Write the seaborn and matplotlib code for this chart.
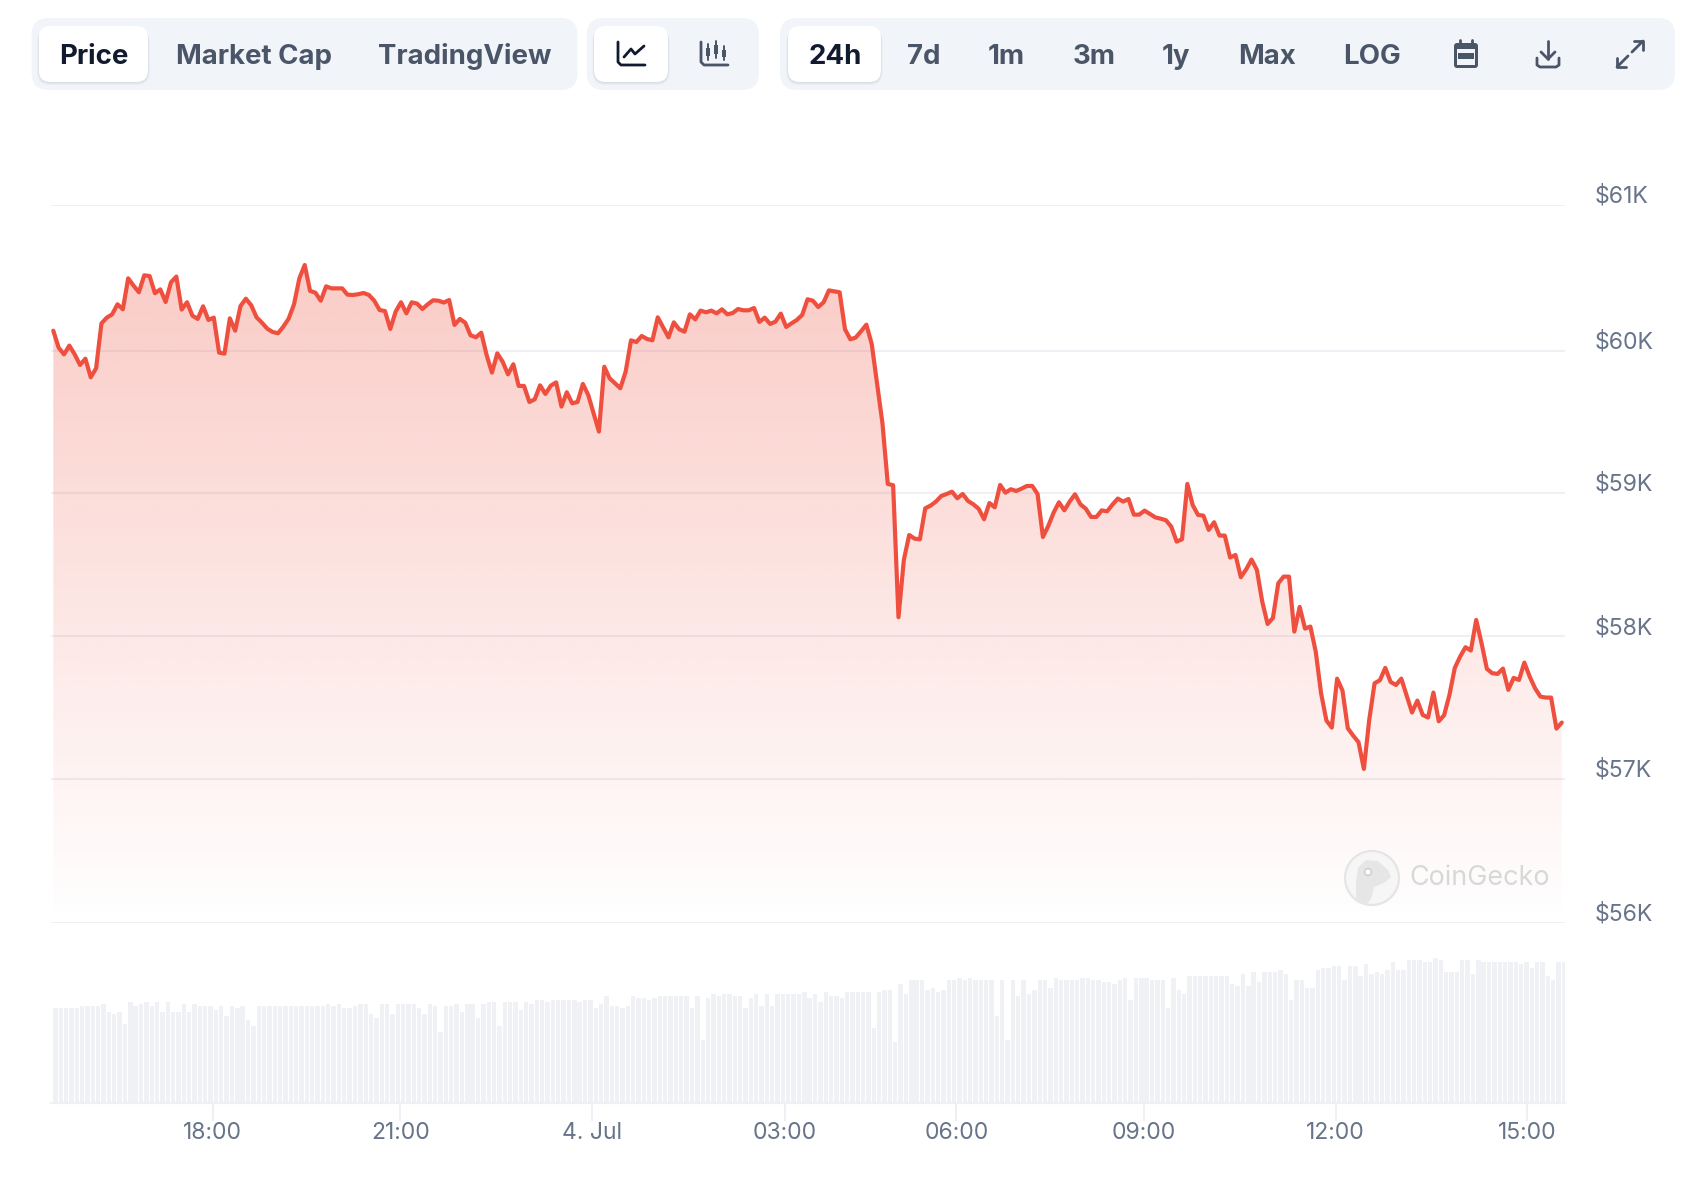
"""CoinGecko style 24h BTC price card: price line with gradient fill, volume bars, toolbar."""
import numpy as np
import matplotlib.pyplot as plt
import matplotlib.transforms as mtrans
from matplotlib.colors import to_rgb
from matplotlib.patches import Circle, FancyBboxPatch, Polygon, Rectangle
import seaborn as sns

sns.set_theme(style="white")
plt.rcParams["font.family"] = ["Inter", "DejaVu Sans"]

# ---------- data ----------
price = [
    60139, 60021, 59974, 60035, 59974, 59900, 59944, 59814, 59877, 60190, 60230, 60253,
    60323, 60288, 60504, 60453, 60407, 60525, 60520, 60400, 60427, 60339, 60476, 60516,
    60286, 60337, 60244, 60221, 60309, 60214, 60230, 59986, 59979, 60225, 60139, 60311,
    60362, 60316, 60232, 60195, 60153, 60130, 60121, 60167, 60223, 60323, 60504, 60597,
    60416, 60404, 60348, 60448, 60434, 60434, 60434, 60390, 60388, 60393, 60402, 60388,
    60348, 60283, 60276, 60151, 60272, 60337, 60260, 60337, 60328, 60290, 60323, 60351,
    60348, 60335, 60353, 60179, 60221, 60195, 60107, 60093, 60125, 59970, 59847, 59981,
    59923, 59835, 59905, 59754, 59754, 59642, 59661, 59758, 59698, 59756, 59779, 59610,
    59710, 59633, 59642, 59768, 59691, 59563, 59436, 59888, 59807, 59772, 59738, 59854,
    60072, 60060, 60102, 60081, 60072, 60232, 60163, 60093, 60197, 60149, 60132, 60253,
    60218, 60279, 60267, 60279, 60260, 60288, 60253, 60262, 60290, 60281, 60281, 60297,
    60200, 60230, 60186, 60202, 60258, 60165, 60190, 60214, 60249, 60358, 60348,
    60304, 60337, 60420, 60413, 60407, 60149, 60079, 60091, 60135, 60181, 60046, 59772,
    59494, 59071, 59062, 58142, 58541, 58715, 58690, 58685, 58901, 58920, 58948, 58987,
    59001, 59017, 58971, 59001, 58952, 58929, 58897, 58825, 58938, 58908, 59064, 59010,
    59034, 59022, 59038, 59057, 59057, 59001, 58701, 58778, 58871, 58943, 58887, 58948,
    58999, 58929, 58899, 58841, 58841, 58887, 58880, 58927, 58969, 58948, 58966, 58857,
    58857, 58885, 58862, 58838, 58829, 58818, 58773, 58669, 58685, 59071, 58924,
    58855, 58850, 58751, 58804, 58711, 58711, 58558, 58576, 58421, 58476, 58544, 58472,
    58251, 58095, 58137, 58379, 58425, 58425, 58042, 58214, 58063, 58077, 57903, 57612,
    57422, 57373, 57714, 57631, 57368, 57317, 57271, 57085, 57426, 57682, 57703, 57789,
    57691, 57670, 57714, 57596, 57478, 57561, 57461, 57443, 57617, 57417, 57459, 57601,
    57789, 57868, 57933, 57910, 58123, 57961, 57782, 57752, 57747, 57784, 57636, 57719,
    57705, 57826, 57728, 57647, 57589, 57582, 57582, 57366, 57408,
]
volume = [
    286, 286, 286, 286, 286, 292, 292, 292, 292, 298, 274, 268, 274, 238, 304, 292, 298, 304, 292,
    304, 274, 304, 274, 274, 298, 274, 298, 292, 292, 292, 280, 292, 262, 292, 286, 292, 250, 232,
    292, 292, 292, 292, 292, 292, 292, 292, 292, 292, 292, 292, 292, 298, 292, 298, 286, 286, 292,
    298, 298, 268, 256, 298, 298, 268, 298, 298, 298, 298, 286, 268, 298, 292, 214, 292, 292, 298,
    274, 298, 298, 256, 298, 304, 304, 232, 304, 304, 304, 280, 304, 298, 310, 310, 304, 310, 310,
    310, 310, 310, 304, 310, 310, 286, 298, 322, 292, 292, 286, 292, 322, 316, 316, 310, 316, 322,
    322, 322, 322, 322, 322, 286, 322, 190, 316, 328, 322, 328, 328, 322, 322, 286, 316, 328, 292,
    328, 292, 328, 328, 328, 328, 328, 334, 316, 328, 304, 334, 322, 322,
    316, 334, 334, 334, 334, 334, 226, 334, 340, 340, 184, 358, 328, 370, 370, 370, 340, 346, 334,
    340, 370, 370, 376, 370, 376, 370, 370, 370, 370, 262, 370, 190, 370, 322, 370, 328, 340, 370,
    370, 346, 376, 370, 370, 370, 370, 376, 376, 370, 370, 364, 364, 358, 370, 376, 310, 376, 376,
    376, 370, 370, 370, 286, 376, 340, 328, 382, 382, 382, 382, 382, 382, 382, 382, 358, 352, 388,
    352, 394, 364, 394, 394, 394, 400, 388, 310, 370, 370, 346, 346, 400, 406, 406, 412, 412, 370,
    412, 412, 382, 418, 388, 394, 388, 400, 424, 400, 400, 430, 430, 430, 424, 424, 436, 430, 394,
    394, 394, 430, 430, 388, 430, 424, 424, 424, 424, 424, 424, 424, 418, 424, 406, 424, 424, 382,
    370, 424, 424, 424,
]
n_samples = min(len(price), len(volume))
sample_idx = np.arange(n_samples)
price = price[:n_samples]
volume = volume[:n_samples]

xtick_pos = [29.4, 64.5, 100.3, 136.3, 168.4, 203.5, 239.3, 275.1]
xtick_labels = ["18:00", "21:00", "4. Jul", "03:00", "06:00", "09:00", "12:00", "15:00"]
ytick_pos = [61015, 60000, 59010, 58008, 57015, 56011]
ytick_labels = ["$61K", "$60K", "$59K", "$58K", "$57K", "$56K"]

tabs_main = [("Price", 93.9), ("Market Cap", 253.8), ("TradingView", 464.8)]
tabs_range = [("24h", 834.8), ("7d", 923.9), ("1m", 1005.8), ("3m", 1093.7),
              ("1y", 1176), ("Max", 1267), ("LOG", 1371.8)]

# ---------- colours ----------
RED = "#EF4F3E"
GRID = "#EFF0F5"
BAR = "#F0F1F5"
AXIS_TXT = "#677489"
TAB_BG = "#F1F4F9"
DARK = "#111A2E"
MUTED = "#4A5568"

W, H = 1698, 1178
fig = plt.figure(figsize=(W / 100, H / 100), dpi=100, facecolor="white")


def px_axes(x0, y0, x1, y1, **kw):
    return fig.add_axes([x0 / W, 1 - y1 / H, (x1 - x0) / W, (y1 - y0) / H], **kw)


XLIM = (-0.43, 282.6)

# ---------- price panel ----------
ax = px_axes(51, 205, 1565, 923)
ax.set_xlim(XLIM)
ax.set_ylim(56011, 61015)
ax.set_axisbelow(True)
ax.grid(axis="y", color=GRID, lw=1.5)
ax.grid(axis="x", visible=False)
sns.despine(ax=ax, left=True, bottom=True, right=True, top=True)

band = ax.fill_between(sample_idx, price, 56011, facecolor="none", edgecolor="none")
grad = np.zeros((256, 1, 4))
grad[..., :3] = to_rgb(RED)
grad[:, 0, 3] = np.linspace(0.32, 0.0, 256)
img = ax.imshow(grad, extent=(sample_idx[0], sample_idx[-1], 56011, 61015),
                aspect="auto", zorder=2, interpolation="bilinear")
img.set_clip_path(band.get_paths()[0], transform=ax.transData)
ax.set_xlim(XLIM)
ax.set_ylim(56011, 61015)

sns.lineplot(x=sample_idx, y=price, ax=ax, color=RED, lw=3.0, zorder=3,
             solid_joinstyle="round", errorbar=None, estimator=None)
ax.set_xlabel("")
ax.set_ylabel("")
ax.set_xticks([])
ax.set_yticks(ytick_pos, ytick_labels)
ax.yaxis.tick_right()
ax.tick_params(axis="y", length=0, pad=21.6, labelsize=16.6, labelcolor=AXIS_TXT)
shift = mtrans.ScaledTranslation(0, 11 / 100, fig.dpi_scale_trans)
for lab in ax.get_yticklabels():
    lab.set_transform(lab.get_transform() + shift)

# ---------- volume panel ----------
ax_vol = px_axes(51, 940, 1565, 1103.3)
sns.barplot(x=sample_idx, y=volume, ax=ax_vol, color=BAR, saturation=1, width=0.82,
            native_scale=True, linewidth=0, errorbar=None)
# columns sit slightly right of their line samples
ax_vol.set_xlim(XLIM[0] - 0.4, XLIM[1] - 0.4)
ax_vol.set_ylim(0, 490)
ax_vol.set_xlabel("")
ax_vol.set_ylabel("")
ax_vol.set_yticks([])
ax_vol.set_xticks(xtick_pos, xtick_labels)
ax_vol.tick_params(axis="x", length=13, width=1.5, color=GRID, pad=0.8,
                   labelsize=16.5, labelcolor=AXIS_TXT, bottom=True)
sns.despine(ax=ax_vol, left=True, top=True, right=True)
ax_vol.spines["bottom"].set_color(GRID)
ax_vol.spines["bottom"].set_linewidth(1.6)

# ---------- toolbar and watermark, in pixel coordinates ----------
ui = fig.add_axes([0, 0, 1, 1], zorder=5)
ui.set_xlim(0, W)
ui.set_ylim(H, 0)
ui.axis("off")
ui.patch.set_alpha(0)


def pill(x0, y0, x1, y1, color, r=16, **kw):
    ui.add_patch(FancyBboxPatch((x0, y0), x1 - x0, y1 - y0, lw=0, facecolor=color,
                                boxstyle=f"round,pad=0,rounding_size={r}", **kw))


def button(x0, x1):
    for off, a in [(3, 0.05), (2, 0.06), (1, 0.06)]:
        pill(x0 - off / 2, 26 + off, x1 + off / 2, 82 + off, "#64748B", r=13, alpha=a)
    pill(x0, 26, x1, 82, "white", r=12)


pill(31.6, 18, 577.5, 90, TAB_BG, r=17)
pill(586.7, 18, 759, 90, TAB_BG, r=17)
pill(780, 18, 1675, 90, TAB_BG, r=17)
button(38.8, 148)
button(594, 668)
button(788, 881)

for label, cx in tabs_main + tabs_range:
    active = label in ("Price", "24h")
    ui.text(cx, 64, label, ha="center", va="baseline", fontsize=19.9, fontweight="bold",
            color=DARK if active else MUTED)


def icon(xs, ys, color=MUTED, lw=2.0):
    ui.plot(xs, ys, color=color, lw=lw, solid_capstyle="round", solid_joinstyle="round")


# line chart icon
icon([618, 618, 621, 645], [42, 62, 65, 65], DARK)
icon([624, 631, 635, 644], [57, 49, 54, 46], DARK)
# candle icon
icon([701, 701, 704, 728], [42, 62, 65, 65])
for cx, y0, y1, b0, b1 in [(708, 44, 60, 48, 56), (716, 41, 58, 45, 54), (724, 46, 60, 50, 57)]:
    icon([cx, cx], [y0, y1], lw=1.4)
    ui.add_patch(Rectangle((cx - 2.2, b0), 4.4, b1 - b0, color=MUTED, lw=0))
# calendar icon
pill(1454, 43, 1478, 68, MUTED, r=3)
ui.add_patch(Rectangle((1457, 49), 18, 16, color=TAB_BG, lw=0))
ui.add_patch(Rectangle((1458, 53), 16, 6, color=MUTED, lw=0))
icon([1460, 1460], [40, 45], lw=2)
icon([1472, 1472], [40, 45], lw=2)
# download icon
icon([1548, 1548], [41, 59])
icon([1541, 1548, 1555], [52, 59, 52])
icon([1537, 1537, 1540, 1556, 1559, 1559], [58, 65, 67, 67, 65, 58])
# expand icon
icon([1632, 1643], [52, 41])
icon([1634, 1643, 1643], [41, 41, 50])
icon([1617, 1628], [67, 56])
icon([1617, 1617, 1626], [58, 67, 67])

# watermark
ui.add_patch(Circle((1372, 878), 27, facecolor="#F7F6F6", edgecolor="#E6E5E5", lw=1.6))
ui.add_patch(Polygon([(1358, 868), (1366, 860), (1378, 861), (1388, 870), (1391, 877),
                      (1384, 883), (1374, 887), (1372, 896), (1368, 903), (1356, 902),
                      (1356, 882)], closed=True, facecolor="#E7E6E6", lw=0))
ui.add_patch(Circle((1368, 872), 3.4, facecolor="white", edgecolor="#CFCFCF", lw=1.2))
ui.text(1409, 885, "CoinGecko", ha="left", va="baseline", fontsize=19.4,
        color="#D9D8D8")

fig.savefig("out.png", dpi=100)
